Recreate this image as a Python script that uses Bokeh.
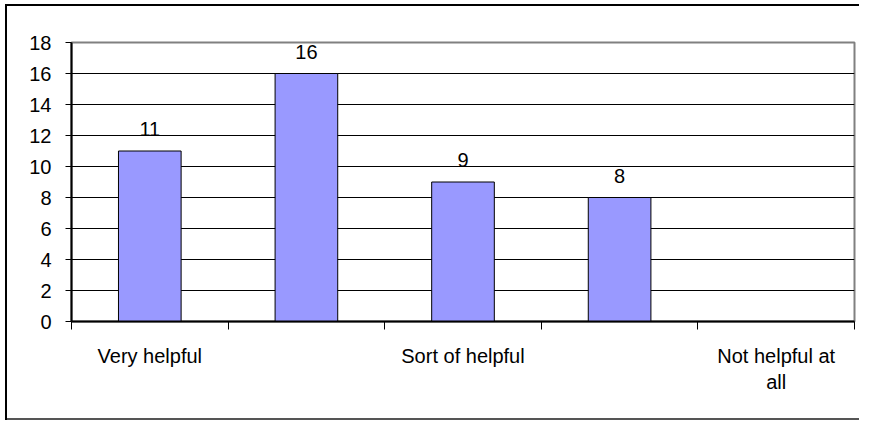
from bokeh.plotting import figure
from bokeh.models import FixedTicker, Range1d, ColumnDataSource
from bokeh.embed import file_html
from bokeh.resources import INLINE
from bokeh.core.properties import value

# ---- data ----
categories = ["Very helpful", "", "Sort of helpful", "", "Not helpful at all"]
tick_labels = ["Very helpful", "", "Sort of helpful", "", "Not helpful at\nall"]
counts = [11, 16, 9, 8]          # last category has no bar
y_ticks = [0, 2, 4, 6, 8, 10, 12, 14, 16, 18]

FONT = "Liberation Sans"
FS = "20px"

xs = list(range(1, len(counts) + 1))
src = ColumnDataSource(dict(x=xs, top=counts, lbl=[str(c) for c in counts]))

p = figure(width=859, height=421, output_backend="svg", toolbar_location=None,
           x_range=Range1d(0.5, len(categories) + 0.5), y_range=Range1d(0, 18),
           min_border_left=71, min_border_top=42, min_border_right=5, min_border_bottom=100,
           background_fill_color="white", border_fill_color=None)
p.styles = {
    "background-image": "linear-gradient(#000,#000), linear-gradient(#000,#000), linear-gradient(#555,#555)",
    "background-position": "5px 4px, 5px 4px, 5px calc(100% - 1px)",
    "background-size": "2px calc(100% - 5px), 100% 2px, 100% 2px",
    "background-repeat": "no-repeat",
}

p.outline_line_color = "#808080"
p.outline_line_width = 2

p.vbar(x="x", top="top", width=0.4, source=src, fill_color="#9999FF",
       line_color="black", line_width=1)
p.text(x="x", y="top", text="lbl", source=src, text_align="center",
       text_baseline="alphabetic", y_offset=-22, text_font=value(FONT),
       text_font_size=FS, text_color="black")

# grid
p.xgrid.visible = False
p.ygrid.ticker = FixedTicker(ticks=y_ticks)
p.ygrid.grid_line_color = "black"
p.ygrid.grid_line_width = 1

# y axis
ya = p.yaxis[0]
ya.ticker = FixedTicker(ticks=y_ticks, minor_ticks=[])
ya.axis_line_color = "black"
ya.axis_line_width = 2
ya.major_tick_out = 6
ya.major_tick_in = 0
ya.major_tick_line_color = "black"
ya.minor_tick_line_color = None
ya.major_label_standoff = 14
ya.major_label_text_font = FONT
ya.major_label_text_font_size = FS
ya.major_label_text_color = "black"

# x axis
xa = p.xaxis[0]
centers = [i + 1 for i, t in enumerate(tick_labels) if t]
bounds = [i + 0.5 for i in range(len(categories) + 1)]
xa.ticker = FixedTicker(ticks=centers, minor_ticks=bounds)
xa.major_label_overrides = {i + 1: t for i, t in enumerate(tick_labels) if t}
xa.axis_line_color = "black"
xa.axis_line_width = 2
xa.major_tick_line_color = None
xa.major_tick_out = 0
xa.major_tick_in = 0
xa.minor_tick_line_color = "black"
xa.minor_tick_out = 8
xa.minor_tick_in = 0
xa.major_label_standoff = 15
xa.major_label_text_font = FONT
xa.major_label_text_font_size = FS
xa.major_label_text_color = "black"

open("out.html", "w").write(file_html(p, INLINE))
